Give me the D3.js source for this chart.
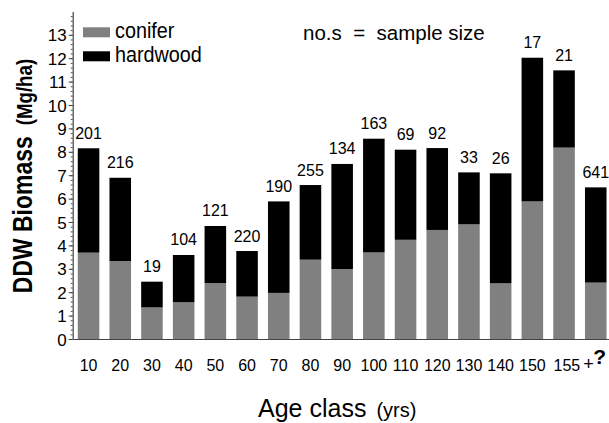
<!DOCTYPE html>
<html>
<head>
<meta charset="utf-8">
<script src="https://cdn.jsdelivr.net/npm/d3@7"></script>
<style>
  body { margin: 0; background: #fff; }
  text { font-family: "Liberation Sans", Arial, Helvetica, sans-serif; fill: #000; }
</style>
</head>
<body>
<div id="chart"></div>
<script>
const width = 609;
const height = 423;

// age classes (yrs)
const ageClasses = ["10", "20", "30", "40", "50", "60", "70", "80", "90", "100",
                    "110", "120", "130", "140", "150", "155+", "?"];
// DDW biomass (Mg/ha)
const conifer  = [3.69, 3.33, 1.35, 1.57, 2.39, 1.81, 1.97, 3.39, 2.99, 3.70,
                  4.24, 4.66, 4.90, 2.38, 5.88, 8.18, 2.41];
const hardwood = [4.46, 3.56, 1.10, 2.02, 2.44, 1.95, 3.91, 3.19, 4.49, 4.86,
                  3.85, 3.50, 2.22, 4.70, 6.14, 3.30, 4.07];
// no.s = sample size
const sampleSize = [201, 216, 19, 104, 121, 220, 190, 255, 134, 163,
                    69, 92, 33, 26, 17, 21, 641];
const yTicks = d3.range(0, 14);
const seriesNames = ["conifer", "hardwood"];

const rows = ageClasses.map((c, i) => ({ age: c, conifer: conifer[i], hardwood: hardwood[i], n: sampleSize[i] }));

const colors = { conifer: "#808080", hardwood: "#000000" };

const svg = d3.select("#chart")
    .append("svg")
    .attr("width", width)
    .attr("height", height);

const x = d3.scaleBand()
    .domain(ageClasses)
    .range([72.7, 611.6])
    .paddingInner(0.32)
    .paddingOuter(0.16);

const y = d3.scaleLinear()
    .domain([0, 14])
    .range([339, 11.4]);

const stacked = d3.stack().keys(seriesNames)(rows);

// bars
svg.append("g")
    .selectAll("g")
    .data(stacked)
    .join("g")
    .attr("fill", d => colors[d.key])
    .selectAll("rect")
    .data(d => d)
    .join("rect")
    .attr("x", d => x(d.data.age))
    .attr("y", d => y(d[1]))
    .attr("width", x.bandwidth())
    .attr("height", d => y(d[0]) - y(d[1]));

// sample size labels above bars
svg.append("g")
    .selectAll("text")
    .data(rows)
    .join("text")
    .attr("x", d => x(d.age) + x.bandwidth() / 2)
    .attr("y", d => y(d.conifer + d.hardwood) - 9.5)
    .attr("text-anchor", "middle")
    .style("font-size", "16px")
    .text(d => d.n);

// y axis: minor ticks then major ticks
svg.append("g")
    .attr("transform", "translate(72.7,0)")
    .call(d3.axisLeft(y).tickValues(d3.range(0, 13.9, 0.2)).tickSize(2).tickFormat(""))
    .call(g => g.select(".domain").remove())
    .call(g => g.selectAll("line").attr("stroke", "#555"));

svg.append("g")
    .attr("transform", "translate(72.7,0)")
    .call(d3.axisLeft(y).tickValues(yTicks).tickSize(4).tickSizeOuter(0).tickPadding(2))
    .call(g => g.select(".domain").attr("stroke", "#444").attr("stroke-width", 1.2))
    .call(g => g.selectAll("line").attr("stroke", "#444"))
    .call(g => g.selectAll("text")
        .style("font-size", "17px")
        .style("font-family", null)
        .attr("fill", "#000")
        .attr("dy", "0.36em"));

// x axis
const xAxis = svg.append("g")
    .attr("transform", "translate(0,339)")
    .call(d3.axisBottom(x).tickSize(0).tickSizeOuter(0).tickPadding(0))
    .call(g => g.select(".domain").attr("stroke", "#444").attr("stroke-width", 1.2));

xAxis.selectAll("text")
    .style("font-size", "16px")
    .style("font-family", null)
    .attr("fill", "#000")
    .attr("y", 31.5)
    .attr("dy", null)
    .each(function(d) {
        const t = d3.select(this);
        if (d === "155+") {
            t.text(null);
            t.append("tspan").text("155");
            t.append("tspan").attr("dx", 3).attr("dy", -1).style("font-size", "18px").text("+");
            t.attr("text-anchor", "start").attr("x", -10.5);
        } else if (d === "?") {
            t.style("font-size", "21px").style("font-weight", "bold")
                .attr("y", 25).attr("x", 4);
        }
    });

// legend
const legend = svg.append("g");
seriesNames.forEach((k, i) => {
    legend.append("rect")
        .attr("x", 83).attr("y", 27.3 + i * 24)
        .attr("width", 27).attr("height", 10)
        .attr("fill", colors[k]);
    legend.append("text")
        .attr("transform", `translate(115,${37.5 + i * 24.5}) scale(0.9,1)`)
        .style("font-size", "22px")
        .text(k);
});

svg.append("text")
    .attr("x", 303)
    .attr("y", 40)
    .style("font-size", "20.5px")
    .style("white-space", "pre")
    .text("no.s  =  sample size");

// axis titles
const yTitle = svg.append("text")
    .attr("transform", "translate(32,176) rotate(-90) scale(0.85,1)")
    .attr("text-anchor", "middle")
    .style("font-weight", "bold")
    .style("font-size", "27px");
yTitle.append("tspan").text("DDW Biomass");
yTitle.append("tspan").attr("dx", 13).style("font-size", "22px").text("(Mg/ha)");

const xTitle = svg.append("text")
    .attr("x", 258)
    .attr("y", 416.7)
    .style("font-size", "25px");
xTitle.append("tspan").text("Age class");
xTitle.append("tspan").attr("dx", 10).style("font-size", "20px").text("(yrs)");
</script>
</body>
</html>
